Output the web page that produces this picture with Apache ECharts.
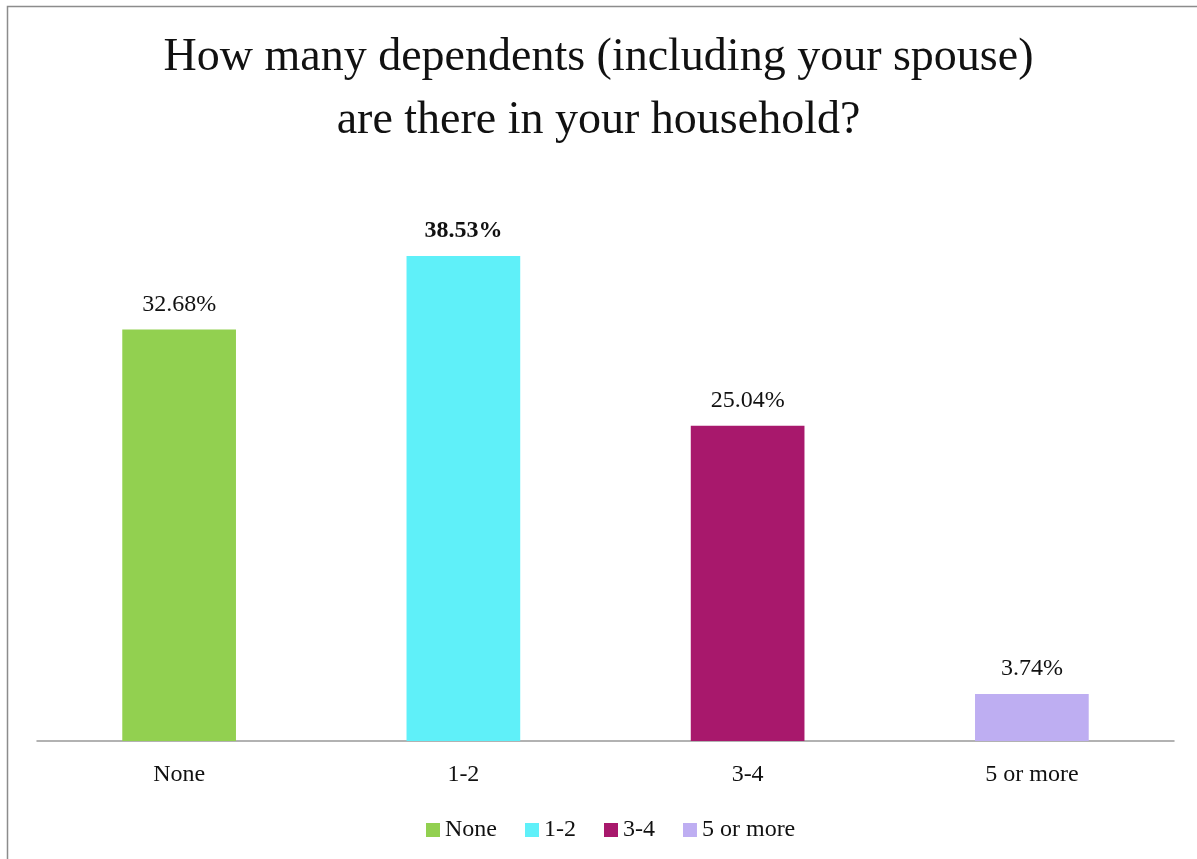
<!DOCTYPE html>
<html>
<head>
<meta charset="utf-8">
<style>
  html, body { margin: 0; padding: 0; background: #fff; }
  #chart { width: 1197px; height: 859px; }
</style>
<script src="https://cdn.jsdelivr.net/npm/echarts@6/dist/echarts.min.js"></script>
</head>
<body>
<div id="chart"></div>
<script>
// Household dependents survey: share of respondents per category
const categories = ['None', '1-2', '3-4', '5 or more'];
const shares = [32.68, 38.53, 25.04, 3.74];
const colors = ['#92D050', '#5FF0F9', '#A8186C', '#BEAEF2'];
const titleLines = ['How many dependents (including your spouse)', 'are there in your household?'];

const serif = '"Liberation Serif", "DejaVu Serif", serif';
const maxShare = Math.max(...shares);

const chart = echarts.init(document.getElementById('chart'), null, { renderer: 'canvas' });

const series = categories.map((name, i) => ({
  name: name,
  type: 'bar',
  stack: 'all',
  barWidth: '40%',
  data: categories.map((c, j) => (j === i ? shares[i] : null)),
  itemStyle: { color: colors[i] },
  label: {
    show: true,
    position: 'top',
    distance: 13,
    fontFamily: serif,
    fontSize: 24,
    color: '#111',
    fontWeight: shares[i] === maxShare ? 'bold' : 'normal',
    formatter: p => p.value.toFixed(2) + '%'
  }
}));

chart.setOption({
  animation: false,
  backgroundColor: '#fff',
  graphic: [{
    type: 'rect',
    shape: { x: 7.5, y: 6.5, width: 1400, height: 1000 },
    style: { fill: 'none', stroke: '#8c8c8c', lineWidth: 1.5 },
    silent: true
  }],
  title: {
    text: titleLines.join('\n'),
    left: 'center',
    top: 21,
    textStyle: {
      fontFamily: serif,
      fontSize: 46,
      fontWeight: 'normal',
      color: '#111',
      lineHeight: 63
    }
  },
  legend: {
    bottom: 12,
    left: 421,
    itemWidth: 14,
    itemHeight: 14,
    itemGap: 28,
    icon: 'rect',
    textStyle: { fontFamily: serif, fontSize: 24, color: '#111' },
    data: categories
  },
  grid: { left: 37, right: 23, top: 174.5, bottom: 118 },
  xAxis: {
    type: 'category',
    data: categories,
    axisLine: { lineStyle: { color: '#999', width: 1.5 } },
    axisTick: { show: false },
    axisLabel: { fontFamily: serif, fontSize: 24, color: '#111', margin: 22 }
  },
  yAxis: {
    type: 'value',
    min: 0,
    max: 45,
    show: false,
    splitLine: { show: false }
  },
  series: series
});
</script>
</body>
</html>
